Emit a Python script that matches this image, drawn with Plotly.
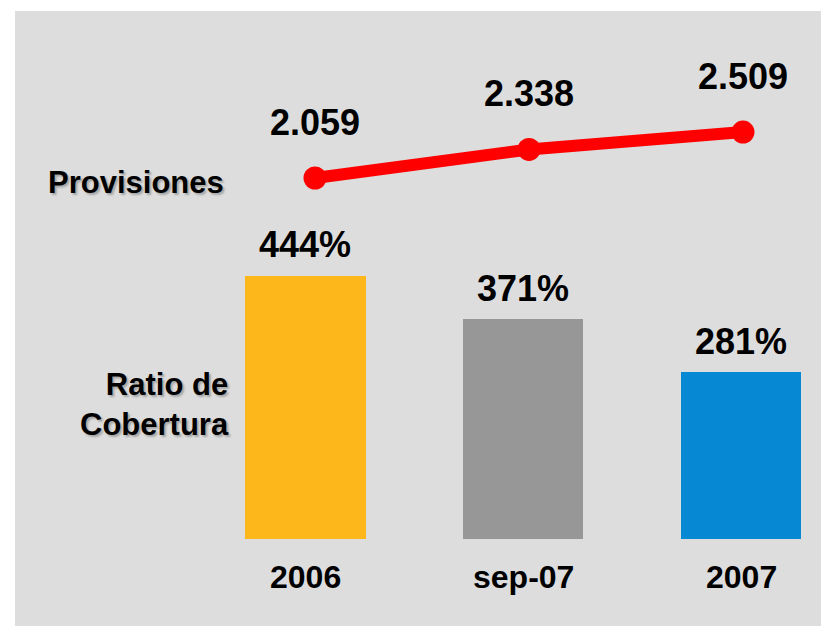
import plotly.graph_objects as go

categories = ["2006", "sep-07", "2007"]
ratio_values = [444, 371, 281]          # Ratio de Cobertura (%)
provision_values = [2059, 2338, 2509]   # Provisiones
provision_labels = ["2.059", "2.338", "2.509"]
bar_colors = ["#FDB71B", "#979797", "#0689D2"]
series_names = ["Provisiones", "Ratio de<br>Cobertura"]

FONT = "Liberation Sans, Arial, sans-serif"
W, H = 829, 626
OFF = 8                     # page body offset of the figure
ML, MT = 7, 3               # margins -> gray panel starts at screen (15, 11)
SX0, SY0 = OFF + ML, OFF + MT
SX1, SY1 = OFF + W, OFF + H
plot_w, plot_h = SX1 - SX0, SY1 - SY0

fig = go.Figure()

fig.add_trace(go.Bar(
    x=categories, y=ratio_values,
    marker=dict(color=bar_colors, line=dict(width=0)),
    width=0.555, xaxis="x", yaxis="y", showlegend=False,
))

fig.add_trace(go.Scatter(
    x=categories, y=provision_values, mode="lines+markers",
    line=dict(color="#FF0000", width=12),
    marker=dict(color="#FF0000", size=23),
    xaxis="x2", yaxis="y2", showlegend=False,
))

shadow = "2px 2px 2px rgba(0,0,0,0.25)"
ann = []
for i, v in enumerate(ratio_values):
    ann.append(dict(x=i, y=v, xref="x", yref="y", text=f"{v}%", showarrow=False,
                    yanchor="middle", yshift=31,
                    font=dict(family=FONT, size=36, color="black", weight="bold")))
for i, (v, t) in enumerate(zip(provision_values, provision_labels)):
    ann.append(dict(x=i, y=v, xref="x2", yref="y2", text=t, showarrow=False,
                    yanchor="middle", yshift=56,
                    font=dict(family=FONT, size=36, color="black", weight="bold")))
for i, c in enumerate(categories):
    ann.append(dict(x=i, y=0, xref="x", yref="y", text=c, showarrow=False,
                    yanchor="middle", yshift=-38,
                    font=dict(family=FONT, size=32, color="black", weight="bold")))


def px_x(sx):
    return (sx - SX0) / plot_w


def px_y(sy):
    return (SY1 - sy) / plot_h


ann.append(dict(x=px_x(226), y=px_y(183), xref="paper", yref="paper", text=series_names[0],
                showarrow=False, xanchor="right", yanchor="middle",
                font=dict(family=FONT, size=31, color="black", weight="bold", shadow=shadow)))
ann.append(dict(x=px_x(231), y=px_y(404), xref="paper", yref="paper", text=series_names[1],
                showarrow=False, xanchor="right", yanchor="middle", align="right",
                font=dict(family=FONT, size=31, color="black", weight="bold", shadow=shadow)))

# bar axes: screen y 539 <-> 0, 0.593 px per unit; bar centers at 305 (+218 px per category)
bar_bottom = 539
k_bar = 0.593
y_range = [-(SY1 - bar_bottom) / k_bar, (bar_bottom - SY0) / k_bar]
x_range = [-(305 - SX0) / 218, (SX1 - 305) / 218]

# line axes: first point at screen (315, 178), 214 px per category, 0.1022 px per unit
k_line = 0.1022
y2_range = [provision_values[0] - (SY1 - 178) / k_line,
            provision_values[0] + (178 - SY0) / k_line]
x2_range = [-(315 - SX0) / 214, (SX1 - 315) / 214]

noax = dict(showticklabels=False, showgrid=False, zeroline=False, showline=False)

fig.update_layout(
    width=W, height=H,
    margin=dict(l=ML, r=0, t=MT, b=0, pad=0),
    paper_bgcolor="white", plot_bgcolor="#DDDDDD",
    xaxis=dict(domain=[0, 1], range=x_range, type="category", **noax),
    yaxis=dict(domain=[0, 1], range=y_range, **noax),
    xaxis2=dict(overlaying="x", range=x2_range, type="category", **noax),
    yaxis2=dict(overlaying="y", range=y2_range, **noax),
    annotations=ann,
    bargap=0,
)

fig.write_html("out.html")
